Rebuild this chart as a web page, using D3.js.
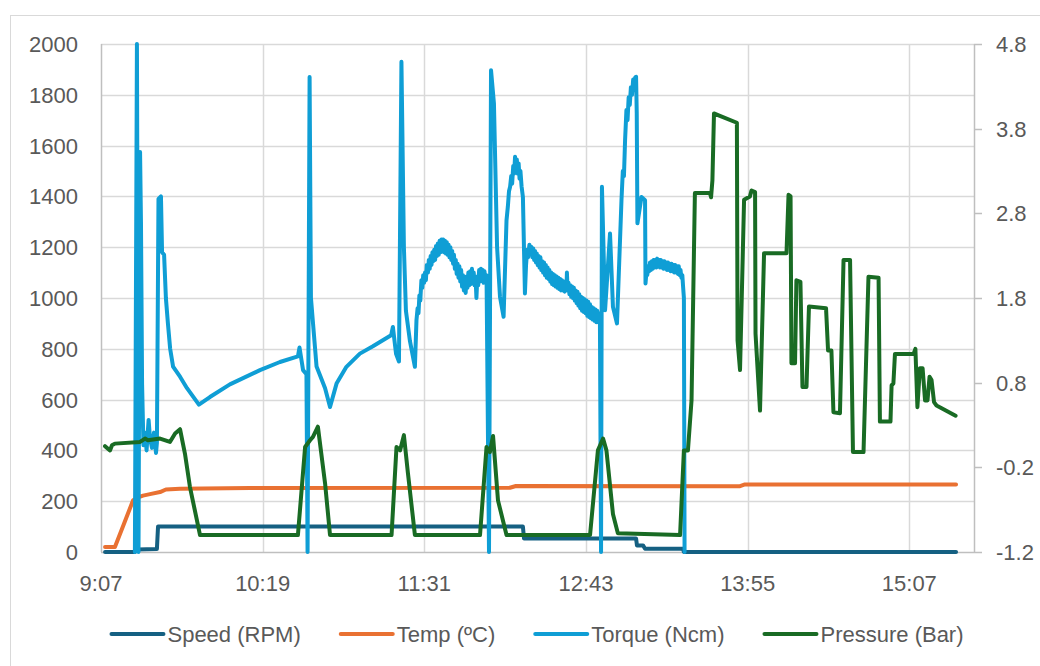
<!DOCTYPE html>
<html><head><meta charset="utf-8">
<script src="https://cdn.jsdelivr.net/npm/d3@7"></script>
<style>
html,body{margin:0;padding:0;background:#fff;}
svg{display:block;font-family:"Liberation Sans", Arial, sans-serif;}
</style></head>
<body><svg id="chart" width="1040" height="666"></svg>
<script>
// ---- axis definitions ----
const xAxisDays = [0.38, 0.65];          // Excel value-axis bounds (fraction of a day)
const xMajorDays = 0.05;
const xTickLabels = ["9:07", "10:19", "11:31", "12:43", "13:55", "15:07"];
const leftTicks = [0, 200, 400, 600, 800, 1000, 1200, 1400, 1600, 1800, 2000];
const rightTicks = [-1.2, -0.2, 0.8, 1.8, 2.8, 3.8, 4.8];
const rightDomain = [-1.2, 4.8];
const leftDomain = [0, 2000];

// ---- series (time in minutes after midnight, value) ----
const seriesNames = ["Speed (RPM)", "Temp (ºC)", "Torque (Ncm)", "Pressure (Bar)"];
const seriesColors = ["#156082", "#E97132", "#0F9ED5", "#196B24"];

const speedData = [[549.0,0],[562.3,0],[563.2,10],[572.1,12],[572.6,100],[735.1,100],[735.6,53],
  [785.5,53],[785.9,26],[788.6,26],[789.5,13],[806.4,13],[806.8,0],[928.0,0]];

const tempData = [[549.0,20],[553.4,20],[557.4,110],[561.5,204],[563.7,215],[565.9,222],[569.0,228],
  [573.5,236],[576.1,246],[582.4,249],[613.6,252],[729.3,253],[732.0,260],[831.8,259],[834.0,266],[928.0,266]];

const torqueData = [[562.3,0],[563.2,2000],[563.9,0],[564.6,1575],[565.0,1300],[565.5,660],[566.1,420],
  [566.8,470],[567.5,400],[568.4,520],[569.0,450],[569.9,410],[570.8,470],[571.7,390],[572.1,430],
  [572.8,1390],[573.9,1400],[574.4,1180],[575.3,1170],[576.1,1000],[577.0,900],[578.0,800],[579.3,730],[582.4,690],
  [585.5,645],[590.8,580],[595.7,610],[604.6,660],[618.0,716],[626.9,748],[634.9,770],[635.6,805],
  [637.2,716],[638.7,700],[639.2,0],[640.1,1870],[640.7,1000],[643.2,730],[647.0,645],[649.2,571],
  [652.1,663],[656.5,729],[662.5,781],[668.3,810],[676.4,853],[677.2,886],[678.6,780],[679.9,750],
  [681.0,1930],[682.1,1200],[683.0,950],[684.8,830],[687.0,729],
  [687.7,913],[688.2,960],[688.6,940],[689.0,1010],[689.4,990],[689.9,1070],[690.3,1040],[690.7,1090],[691.1,1060],
  [691.5,1100],[691.9,1070],[692.3,1130],[692.8,1100],[693.2,1150],[693.6,1115],[694.0,1165],[694.4,1130],[694.8,1180],
  [695.2,1145],[695.6,1190],[696.0,1150],[696.4,1205],[696.8,1165],[697.2,1215],[697.6,1170],[698.0,1225],[698.4,1180],
  [698.8,1230],[699.2,1185],[699.6,1230],[700.0,1180],[700.4,1225],[700.8,1175],[701.2,1220],[701.6,1170],[702.0,1210],
  [702.4,1160],[702.8,1200],[703.2,1150],[703.6,1185],[704.0,1135],[704.4,1170],[704.8,1115],[705.2,1150],[705.6,1095],
  [706.0,1135],[706.4,1080],[706.8,1125],[707.2,1065],[707.6,1110],[708.0,1045],[708.4,1090],[708.8,1030],[709.2,1075],
  [709.6,1020],[710.0,1085],[710.4,1040],[710.8,1100],[711.2,1050],[711.6,1105],[712.0,1055],[712.4,1115],[712.8,1060],
  [713.2,1100],[713.6,1050],[714.0,1085],[714.4,1000],[714.8,1080],[715.2,1050],[715.6,1110],[716.0,1065],[716.4,1115],
  [716.8,1070],[717.2,1110],[717.6,1060],[718.0,1105],[718.4,1065],[718.9,1090],
  [720.0,0],[720.9,1897],[722.2,1766],[723.6,1200],[724.9,1004],[726.5,926],
  [727.8,1306],[728.4,1360],[728.9,1420],[729.4,1438],[729.9,1480],[730.3,1450],[730.8,1520],[731.2,1490],[731.6,1556],
  [732.0,1510],[732.4,1545],[732.8,1490],[733.2,1530],[733.6,1470],[734.0,1500],[734.5,1440],[735.1,1398],[736.0,1018],
  [736.5,1130],[737.0,1190],[737.4,1160],[738.0,1210],[738.5,1180],
  [738.9,1201],[739.3,1160],[739.7,1195],[740.1,1150],[740.5,1185],[740.9,1140],[741.3,1175],[741.7,1130],[742.1,1165],
  [742.5,1120],[742.9,1160],[743.3,1110],[743.7,1145],[744.1,1100],[744.5,1140],[744.9,1090],[745.3,1130],[745.7,1080],
  [746.1,1120],[746.5,1075],[746.9,1110],[747.3,1065],[747.7,1100],[748.1,1055],[748.5,1095],[748.9,1050],[749.3,1090],
  [749.7,1045],[750.1,1085],[750.5,1040],[750.9,1080],[751.3,1035],[751.7,1075],[752.1,1030],[752.5,1070],[752.9,1030],
  [753.3,1065],[753.7,1025],[754.1,1060],[754.5,1030],[754.7,1100],[755.0,1030],[755.4,1060],[755.8,1015],[756.2,1050],
  [756.6,1005],[757.0,1045],[757.4,1000],[757.8,1040],[758.2,990],[758.6,1030],[759.0,980],[759.4,1025],[759.8,970],
  [760.2,1015],[760.6,960],[761.0,1005],[761.4,950],[761.8,1000],[762.2,945],[762.6,995],[763.0,940],[763.4,990],
  [763.8,930],[764.2,985],[764.6,925],[765.0,975],[765.4,920],[765.8,965],[766.2,915],[766.6,960],[767.0,910],
  [767.4,955],[767.8,905],[768.2,950],[768.6,905],[769.0,940],[769.4,913],[769.9,0],
  [770.3,1438],[771.7,952],[773.9,1254],[775.2,965],[777.0,900],
  [779.0,1385],[779.6,1500],[780.1,1480],[780.6,1620],[781.2,1740],[781.7,1700],[782.2,1790],[782.7,1760],[783.2,1830],
  [783.7,1800],[784.2,1860],[784.7,1820],[785.2,1870],[785.5,1871],[785.8,1727],[786.1,1294],[787.9,1398],[789.5,1385],
  [789.7,1057],[790.1,1100],[790.5,1090],[790.9,1125],[791.3,1105],[791.7,1140],[792.1,1110],[792.5,1145],[792.9,1115],
  [793.3,1150],[793.7,1120],[794.1,1150],[794.5,1120],[794.9,1155],[795.3,1125],[795.7,1150],[796.1,1120],[796.5,1150],
  [796.9,1120],[797.3,1145],[797.7,1115],[798.1,1145],[798.5,1115],[798.9,1140],[799.3,1110],[799.7,1140],[800.1,1110],
  [800.5,1135],[800.9,1105],[801.3,1135],[801.7,1105],[802.1,1130],[802.5,1100],[802.9,1130],[803.3,1100],[803.7,1125],
  [804.1,1095],[804.5,1125],[804.9,1090],[805.3,1110],[805.7,1080],[806.1,1090],[806.4,1050],[806.8,1000],[807.1,0]];

const pressureData = [[549.0,0.05],[550.3,0.02],[551.2,0.0],[552.1,0.06],[553.4,0.08],[564.6,0.10],
  [566.8,0.14],[568.1,0.12],[573.5,0.14],[577.9,0.10],[580.2,0.20],[582.4,0.25],[584.6,-0.04],[586.8,-0.43],
  [591.3,-1.0],[634.9,-1.0],[638.1,0.04],[640.3,0.12],[641.6,0.16],[643.8,0.28],[647.0,-0.39],[649.2,-1.0],
  [676.6,-1.0],[678.8,0.04],[680.4,0.0],[682.1,0.18],[683.9,-0.27],[687.0,-1.0],[716.0,-1.0],[718.9,0.04],
  [720.4,-0.02],[721.8,0.17],[724.0,-0.59],[727.8,-1.0],[765.0,-1.0],[768.5,0.0],[770.8,0.14],[772.3,0.0],
  [775.2,-0.75],[777.4,-0.98],[805.1,-1.0],[806.8,0.0],[808.6,0.0],[810.2,0.59],[811.7,3.04],[818.4,3.04],
  [818.9,2.99],[819.5,3.19],[820.2,3.98],[822.0,3.96],[830.4,3.87],[830.7,1.30],[831.8,0.95],[833.6,2.96],
  [836.2,3.0],[836.9,3.07],[838.5,3.05],[838.7,1.38],[840.7,0.47],[842.5,2.33],[852.5,2.33],[853.4,3.02],
  [854.3,3.0],[854.7,1.03],[856.3,1.03],[856.9,2.01],[858.7,1.99],[859.6,0.75],[861.4,0.75],[862.5,1.70],
  [870.1,1.68],[871.0,1.18],[872.5,1.18],[873.4,0.45],[876.3,0.44],[877.9,2.25],[880.8,2.25],[882.1,-0.02],
  [886.8,-0.02],[889.0,2.05],[893.5,2.04],[894.1,0.34],[898.8,0.34],[899.3,0.77],[900.1,0.79],[900.8,1.14],
  [909.1,1.14],[909.9,1.20],[910.8,0.51],[911.9,0.97],[913.1,0.97],[914.2,0.59],[915.3,0.59],[916.2,0.87],
  [917.1,0.83],[918.2,0.57],[919.3,0.53],[927.8,0.41]];

// ---- drawing ----
const svg = d3.select("#chart");
const plot = {left: 101, right: 974, top: 44, bottom: 552};
const textColor = "#595959", gridColor = "#d9d9d9", axisColor = "#bfbfbf";
const fontSize = 22;

// chart border
svg.append("rect").attr("x", 10.5).attr("y", 15.5).attr("width", 1100).attr("height", 700)
  .attr("fill", "#fff").attr("stroke", gridColor).attr("stroke-width", 1);

const x = d3.scaleLinear().domain([xAxisDays[0] * 1440, xAxisDays[1] * 1440]).range([plot.left, plot.right]);
const yL = d3.scaleLinear().domain(leftDomain).range([plot.bottom, plot.top]);
const yR = d3.scaleLinear().domain(rightDomain).range([plot.bottom, plot.top]);

const xTicks = xTickLabels.map((_, i) => (xAxisDays[0] + i * xMajorDays) * 1440);

// gridlines
const grid = svg.append("g");
grid.selectAll("line.h").data(leftTicks.filter(v => v > 0)).join("line")
  .attr("x1", plot.left).attr("x2", plot.right)
  .attr("y1", d => Math.round(yL(d)) + 0.5).attr("y2", d => Math.round(yL(d)) + 0.5)
  .attr("stroke", gridColor).attr("stroke-width", 1.5);
grid.selectAll("line.v").data(xTicks.slice(1)).join("line")
  .attr("y1", plot.top).attr("y2", plot.bottom)
  .attr("x1", d => Math.round(x(d)) + 0.5).attr("x2", d => Math.round(x(d)) + 0.5)
  .attr("stroke", gridColor).attr("stroke-width", 1.5);

// axis lines
const axes = svg.append("g").attr("stroke", axisColor).attr("stroke-width", 1.5);
axes.append("line").attr("x1", plot.left + 0.5).attr("x2", plot.left + 0.5).attr("y1", plot.top).attr("y2", plot.bottom);
axes.append("line").attr("x1", plot.left).attr("x2", plot.right).attr("y1", plot.bottom + 0.5).attr("y2", plot.bottom + 0.5);
axes.append("line").attr("x1", plot.right + 0.5).attr("x2", plot.right + 0.5).attr("y1", plot.top).attr("y2", plot.bottom);
axes.selectAll("line.rt").data(rightTicks).join("line")
  .attr("x1", plot.right).attr("x2", plot.right + 8)
  .attr("y1", d => Math.round(yR(d)) + 0.5).attr("y2", d => Math.round(yR(d)) + 0.5);

// tick labels
const lab = svg.append("g").attr("fill", textColor).style("font-size", fontSize + "px");
lab.selectAll("text.l").data(leftTicks).join("text")
  .attr("x", 78).attr("y", d => yL(d)).attr("dy", "0.36em").attr("text-anchor", "end")
  .text(d => d3.format("d")(d));
lab.selectAll("text.r").data(rightTicks).join("text")
  .attr("x", 996).attr("y", d => yR(d)).attr("dy", "0.36em").attr("text-anchor", "start")
  .text(d => d3.format(".1f")(d).replace("\u2212", "-"));
lab.selectAll("text.b").data(xTicks).join("text")
  .attr("x", d => x(d)).attr("y", 591).attr("text-anchor", "middle")
  .text((d, i) => xTickLabels[i]);

// series lines
const allSeries = [speedData, tempData, torqueData, pressureData];
const yScales = [yL, yL, yL, yR];
allSeries.forEach((data, i) => {
  const line = d3.line().x(d => x(d[0])).y(d => yScales[i](d[1]));
  svg.append("path").datum(data).attr("d", line)
    .attr("fill", "none").attr("stroke", seriesColors[i]).attr("stroke-width", 4)
    .attr("stroke-linejoin", "round").attr("stroke-linecap", "round");
});

// legend
const legend = svg.append("g").style("font-size", fontSize + "px").attr("fill", textColor);
const sampleW = 52, sampleGap = 4, itemGap = 40, legendY = 634;
const items = seriesNames.map((name, i) => {
  const g = legend.append("g");
  g.append("line").attr("x1", 0).attr("x2", sampleW).attr("y1", legendY).attr("y2", legendY)
    .attr("stroke", seriesColors[i]).attr("stroke-width", 4).attr("stroke-linecap", "round");
  const t = g.append("text").attr("x", sampleW + sampleGap).attr("y", legendY).attr("dy", "0.36em").text(name);
  return {g, w: sampleW + sampleGap + t.node().getComputedTextLength()};
});
const total = d3.sum(items, d => d.w) + itemGap * (items.length - 1);
let cx = (plot.left + plot.right) / 2 - total / 2;
items.forEach(it => { it.g.attr("transform", `translate(${cx},0)`); cx += it.w + itemGap; });
</script>
</body></html>
